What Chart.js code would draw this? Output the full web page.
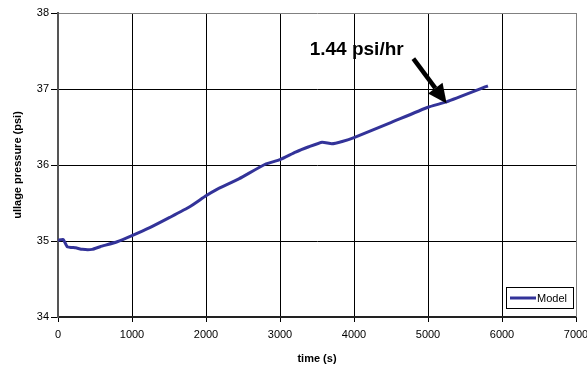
<!DOCTYPE html>
<html>
<head>
<meta charset="utf-8">
<script src="https://cdn.jsdelivr.net/npm/chart.js@4/dist/chart.umd.min.js"></script>
<style>
  html, body { margin: 0; padding: 0; background: #fff; }
  #wrap { width: 587px; height: 366px; }
</style>
</head>
<body>
<div id="wrap"><canvas id="c" width="587" height="366"></canvas></div>
<script>
// Ullage pressure model run: time (s) vs pressure (psi)
const timeSec = [0, 70, 125, 240, 330, 460, 570, 800, 1000, 1240, 1510, 1780, 2000, 2130, 2450, 2800, 3000, 3210, 3390, 3570, 3700, 3840, 4000, 4480, 5000, 5250, 5810];
const pressurePsi = [35.01, 35.02, 34.925, 34.91, 34.89, 34.89, 34.925, 34.99, 35.07, 35.175, 35.31, 35.45, 35.595, 35.67, 35.82, 36.01, 36.07, 36.17, 36.24, 36.30, 36.28, 36.31, 36.36, 36.55, 36.76, 36.83, 37.04];
const xTicks = [0, 1000, 2000, 3000, 4000, 5000, 6000, 7000];
const yTicks = [34, 35, 36, 37, 38];
const seriesName = 'Model';
const rateLabel = '1.44 psi/hr';

const FONT = "'Liberation Sans', Arial, sans-serif";
const LINE_COLOR = '#333399';

// rate callout: text and arrow anchored in data units
const callout = {
  text: { x: 4036, y: 37.51 },
  tail: { x: 4802, y: 37.40 },
  tip:  { x: 5252, y: 36.81 }
};

const points = timeSec.map((t, i) => ({ x: t, y: pressurePsi[i] }));

const calloutPlugin = {
  id: 'callout',
  afterDatasetsDraw(chart) {
    const { ctx, scales: { x, y } } = chart;
    ctx.save();
    // label
    ctx.font = `bold 19px ${FONT}`;
    ctx.fillStyle = '#000';
    ctx.textAlign = 'center';
    ctx.textBaseline = 'middle';
    ctx.fillText(rateLabel, x.getPixelForValue(callout.text.x), y.getPixelForValue(callout.text.y));
    // arrow
    const x0 = x.getPixelForValue(callout.tail.x), y0 = y.getPixelForValue(callout.tail.y);
    const x1 = x.getPixelForValue(callout.tip.x), y1 = y.getPixelForValue(callout.tip.y);
    const ang = Math.atan2(y1 - y0, x1 - x0);
    const headLen = 19, headHalf = 9;
    const bx = x1 - headLen * Math.cos(ang), by = y1 - headLen * Math.sin(ang);
    ctx.strokeStyle = '#000';
    ctx.lineWidth = 4.5;
    ctx.lineCap = 'butt';
    ctx.beginPath();
    ctx.moveTo(x0, y0);
    ctx.lineTo(bx, by);
    ctx.stroke();
    ctx.beginPath();
    ctx.moveTo(x1, y1);
    ctx.lineTo(bx + headHalf * Math.sin(ang), by - headHalf * Math.cos(ang));
    ctx.lineTo(bx - headHalf * Math.sin(ang), by + headHalf * Math.cos(ang));
    ctx.closePath();
    ctx.fill();
    ctx.restore();
  }
};

const legendBoxPlugin = {
  id: 'legendBox',
  afterDraw(chart) {
    const { ctx, chartArea: a } = chart;
    const w = 67, h = 21;
    const lx = a.right - 3 - w, ly = a.bottom - 9 - h;
    ctx.save();
    ctx.fillStyle = '#fff';
    ctx.fillRect(lx, ly, w, h);
    ctx.strokeStyle = '#000';
    ctx.lineWidth = 1;
    ctx.strokeRect(lx + 0.5, ly + 0.5, w, h);
    ctx.strokeStyle = LINE_COLOR;
    ctx.lineWidth = 3;
    ctx.beginPath();
    ctx.moveTo(lx + 4, ly + h / 2 + 0.5);
    ctx.lineTo(lx + 30, ly + h / 2 + 0.5);
    ctx.stroke();
    ctx.fillStyle = '#000';
    ctx.font = `11px ${FONT}`;
    ctx.textAlign = 'left';
    ctx.textBaseline = 'middle';
    ctx.fillText(seriesName, lx + 31, ly + h / 2 + 1);
    ctx.restore();
  }
};

new Chart(document.getElementById('c'), {
  type: 'line',
  data: {
    datasets: [{
      label: seriesName,
      data: points,
      borderColor: LINE_COLOR,
      backgroundColor: LINE_COLOR,
      borderWidth: 3,
      pointRadius: 0,
      tension: 0.15,
      fill: false
    }]
  },
  options: {
    responsive: false,
    animation: false,
    events: [],
    layout: { padding: { left: 0, top: 13, right: 11, bottom: 0 } },
    plugins: {
      legend: { display: false },
      tooltip: { enabled: false }
    },
    scales: {
      x: {
        type: 'linear',
        min: 0,
        max: 7000,
        afterBuildTicks: s => { s.ticks = xTicks.map(v => ({ value: v })); },
        afterFit: s => { s.height = 49; s.paddingLeft = 0; s.paddingRight = 0; },
        grid: {
          color: c => (c.tick && c.tick.value === 7000) ? '#808080' : '#000',
          lineWidth: 1,
          tickLength: 5,
          tickColor: '#000'
        },
        border: { color: '#222', width: 2 },
        ticks: {
          color: '#000',
          font: { family: FONT, size: 11 },
          padding: 6,
          maxRotation: 0,
          autoSkip: false,
          callback: v => String(v)
        },
        title: {
          display: true,
          text: 'time (s)',
          color: '#000',
          font: { family: FONT, size: 11, weight: 'bold' },
          padding: { top: 6, bottom: 0 }
        }
      },
      y: {
        type: 'linear',
        min: 34,
        max: 38,
        afterBuildTicks: s => { s.ticks = yTicks.map(v => ({ value: v })); },
        afterFit: s => { s.width = 58; s.paddingTop = 0; s.paddingBottom = 0; },
        grid: {
          color: c => (c.tick && c.tick.value === 38) ? '#808080' : '#000',
          lineWidth: 1,
          tickLength: 7,
          tickColor: '#000'
        },
        border: { color: '#555', width: 2 },
        ticks: {
          color: '#000',
          font: { family: FONT, size: 11 },
          padding: 2,
          autoSkip: false,
          callback: v => String(v)
        },
        title: {
          display: true,
          text: 'ullage pressure (psi)',
          color: '#000',
          font: { family: FONT, size: 11, weight: 'bold' },
          padding: { top: 11, bottom: 0 }
        }
      }
    }
  },
  plugins: [calloutPlugin, legendBoxPlugin, {
    id: 'rightFrame',
    afterDraw(chart) {
      const { ctx, chartArea: a } = chart;
      ctx.save();
      ctx.strokeStyle = '#808080';
      ctx.lineWidth = 1;
      ctx.beginPath();
      ctx.moveTo(Math.round(a.right) + 0.5, a.top);
      ctx.lineTo(Math.round(a.right) + 0.5, a.bottom);
      ctx.stroke();
      ctx.restore();
    }
  }]
});
</script>
</body>
</html>
